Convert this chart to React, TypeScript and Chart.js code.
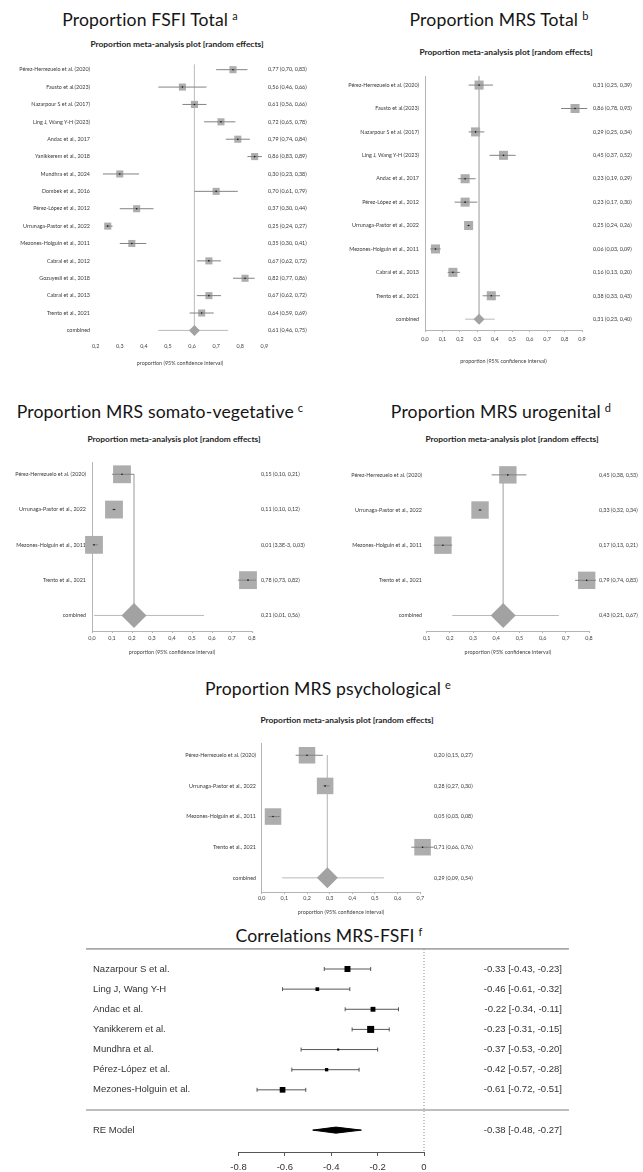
import React, { useEffect, useRef } from 'react';
import { Chart, registerables } from 'chart.js';

Chart.register(...registerables);

// ===================== DATA =====================
// (a) Proportion FSFI total
const fsfiStudies = [
  'Pérez-Herrezuelo et al. (2020)', 'Fausto et al.(2023)', 'Nazarpour S et al. (2017)', 'Ling J, Wang Y-H (2023)',
  'Andac et al., 2017', 'Yanikkerem et al., 2018', 'Mundhra et al., 2024', 'Dombek et al., 2016',
  'Pérez-López et al., 2012', 'Urrunaga-Pastor et al., 2022', 'Mezones-Holguin et al., 2011', 'Cabral et al., 2012',
  'Gozuyesil et al., 2018', 'Cabral et al., 2013', 'Trento et al., 2021',
];
const fsfiEst = [0.77, 0.56, 0.61, 0.72, 0.79, 0.86, 0.30, 0.70, 0.37, 0.25, 0.35, 0.67, 0.82, 0.67, 0.64];
const fsfiLo = [0.70, 0.46, 0.56, 0.65, 0.74, 0.83, 0.23, 0.61, 0.30, 0.24, 0.30, 0.62, 0.77, 0.62, 0.59];
const fsfiHi = [0.83, 0.66, 0.66, 0.78, 0.84, 0.89, 0.38, 0.79, 0.44, 0.27, 0.41, 0.72, 0.86, 0.72, 0.69];
const fsfiCombined = [0.61, 0.46, 0.75];
const fsfiTicks = [0.2, 0.3, 0.4, 0.5, 0.6, 0.7, 0.8, 0.9];

// (b) Proportion MRS total
const mrsStudies = [
  'Pérez-Herrezuelo et al. (2020)', 'Fausto et al.(2023)', 'Nazarpour S et al. (2017)', 'Ling J, Wang Y-H (2023)',
  'Andac et al., 2017', 'Pérez-López et al., 2012', 'Urrunaga-Pastor et al., 2022', 'Mezones-Holguin et al., 2011',
  'Cabral et al., 2013', 'Trento et al., 2021',
];
const mrsEst = [0.31, 0.86, 0.29, 0.45, 0.23, 0.23, 0.25, 0.06, 0.16, 0.38];
const mrsLo = [0.25, 0.78, 0.25, 0.37, 0.19, 0.17, 0.24, 0.03, 0.13, 0.33];
const mrsHi = [0.39, 0.93, 0.34, 0.52, 0.29, 0.30, 0.26, 0.09, 0.20, 0.43];
const mrsCombined = [0.31, 0.23, 0.40];
const mrsTicks = [0.0, 0.1, 0.2, 0.3, 0.4, 0.5, 0.6, 0.7, 0.8, 0.9];

// (c,d,e) MRS subscales
const subStudies = [
  'Pérez-Herrezuelo et al. (2020)', 'Urrunaga-Pastor et al., 2022', 'Mezones-Holguin et al., 2011', 'Trento et al., 2021',
];
const somaEst = [0.15, 0.11, 0.01, 0.78];
const somaLo = [0.10, 0.10, 0.0033, 0.73];
const somaHi = [0.21, 0.12, 0.03, 0.82];
const somaCombined = [0.21, 0.01, 0.56];
const somaTicks = [0.0, 0.1, 0.2, 0.3, 0.4, 0.5, 0.6, 0.7, 0.8];

const uroEst = [0.45, 0.33, 0.17, 0.79];
const uroLo = [0.38, 0.32, 0.13, 0.74];
const uroHi = [0.53, 0.34, 0.21, 0.83];
const uroCombined = [0.43, 0.21, 0.67];
const uroTicks = [0.1, 0.2, 0.3, 0.4, 0.5, 0.6, 0.7, 0.8];

const psyEst = [0.20, 0.28, 0.05, 0.71];
const psyLo = [0.15, 0.27, 0.03, 0.66];
const psyHi = [0.27, 0.30, 0.08, 0.76];
const psyCombined = [0.29, 0.09, 0.54];
const psyTicks = [0.0, 0.1, 0.2, 0.3, 0.4, 0.5, 0.6, 0.7];

// (f) Correlations MRS-FSFI
const corrStudies = [
  'Nazarpour S et al.', 'Ling J, Wang Y-H', 'Andac et al.', 'Yanikkerem et al.',
  'Mundhra et al.', 'Pérez-López et al.', 'Mezones-Holguin et al.',
];
const corrEst = [-0.33, -0.46, -0.22, -0.23, -0.37, -0.42, -0.61];
const corrLo = [-0.43, -0.61, -0.34, -0.31, -0.53, -0.57, -0.72];
const corrHi = [-0.23, -0.32, -0.11, -0.15, -0.20, -0.28, -0.51];
const corrWeights = [21, 8, 14, 29, 2.5, 6.5, 19];
const corrRE = [-0.38, -0.48, -0.27];
const corrTicks = [-0.8, -0.6, -0.4, -0.2, 0];

// ===================== HELPERS =====================
const fmtP = (v: number) =>
  v < 0.01 ? v.toExponential(1).replace('.', ',').replace('e', 'E') : v.toFixed(2).replace('.', ',');
const fmtCI = (e: number, l: number, h: number) => `${fmtP(e)} (${fmtP(l)}, ${fmtP(h)})`;
const fmtCorr = (e: number, l: number, h: number) => `${e.toFixed(2)} [${l.toFixed(2)}, ${h.toFixed(2)}]`;

type Box = { left: number; top: number; width: number; height: number };
type Area = { x0: number; x1: number; y0: number; y1: number };

const SMALL_FONT = { family: 'Lato, sans-serif', size: 5.4 };
const R_FONT = { family: "'Liberation Sans', Arial, sans-serif", size: 9.5 };

interface PropSpec {
  studies: string[]; est: number[]; lo: number[]; hi: number[]; combined: number[]; ticks: number[];
  box: Box; area: Area; row0: number; gap: number; refTop: number;
  padL: number; padR: number; tickPad: number; yLine: boolean; xLine: boolean; sq: number; dia: number;
}

function propConfig(p: PropSpec): any {
  const n = p.studies.length;
  const yMin = (p.area.y0 - p.row0) / p.gap;
  const yMax = (p.area.y1 - p.row0) / p.gap;
  const labelsL = [...p.studies, 'combined'];
  const labelsR = [...p.est.map((e, i) => fmtCI(e, p.lo[i], p.hi[i])), fmtCI(p.combined[0], p.combined[1], p.combined[2])];
  const rowTicks = (s: any) => { s.ticks = labelsL.map((_, i) => ({ value: i })); };
  const ci: any[] = [];
  p.est.forEach((_, i) => { ci.push({ x: p.lo[i], y: i }, { x: p.hi[i], y: i }, { x: p.hi[i], y: null }); });
  const pts = p.est.map((e, i) => ({ x: e, y: i }));
  const axisGrey = '#b4b4b4';
  return {
    type: 'scatter',
    data: {
      datasets: [
        { type: 'line', yAxisID: 'y', data: [{ x: p.combined[0], y: p.refTop }, { x: p.combined[0], y: n }], borderColor: '#c4c4c4', borderWidth: 1, pointRadius: 0, clip: false, order: 5 },
        { type: 'scatter', yAxisID: 'y', data: pts, pointStyle: 'rect', pointRadius: p.sq, pointBackgroundColor: '#adadad', pointBorderWidth: 0, clip: false, order: 4 },
        { type: 'line', yAxisID: 'y', data: [{ x: p.combined[1], y: n }, { x: p.combined[2], y: n }], borderColor: '#b9b9b9', borderWidth: 1, pointRadius: 0, clip: false, order: 3 },
        { type: 'line', yAxisID: 'y', data: ci, borderColor: '#838383', borderWidth: 1, pointRadius: 0, spanGaps: false, clip: false, order: 2 },
        { type: 'scatter', yAxisID: 'y', data: [{ x: p.combined[0], y: n }], pointStyle: 'rectRot', pointRadius: p.dia, pointBackgroundColor: '#a2a2a2', pointBorderWidth: 0, clip: false, order: 1 },
        { type: 'scatter', yAxisID: 'y', data: pts, pointStyle: 'circle', pointRadius: 0.8, pointBackgroundColor: '#111', pointBorderWidth: 0, clip: false, order: 0 },
      ],
    },
    options: {
      responsive: false, animation: false, devicePixelRatio: 1, events: [],
      layout: { padding: { top: p.area.y0 - p.box.top, left: 0, right: 0, bottom: 0 } },
      plugins: { legend: { display: false }, tooltip: { enabled: false }, title: { display: false } },
      scales: {
        x: {
          type: 'linear', min: p.ticks[0], max: p.ticks[p.ticks.length - 1],
          afterBuildTicks: (s: any) => { s.ticks = p.ticks.map((v) => ({ value: v })); },
          afterFit: (s: any) => { s.height = p.box.top + p.box.height - p.area.y1; },
          ticks: { callback: (v: number) => v.toFixed(1).replace('.', ','), font: SMALL_FONT, color: '#444', padding: p.tickPad, autoSkip: false, maxRotation: 0 },
          grid: { display: p.xLine, drawOnChartArea: false, drawTicks: p.xLine, tickLength: 2, color: axisGrey },
          border: { display: p.xLine, color: axisGrey, width: 1 },
          title: { display: true, text: 'proportion (95% confidence interval)', font: SMALL_FONT, color: '#444', padding: 0 },
        },
        y: {
          type: 'linear', position: 'left', reverse: true, min: yMin, max: yMax,
          afterBuildTicks: rowTicks,
          afterFit: (s: any) => { s.width = p.area.x0 - p.box.left; },
          ticks: { callback: (v: number) => labelsL[v] ?? '', font: SMALL_FONT, color: '#3a3a3a', padding: p.padL, autoSkip: false },
          grid: { display: false, drawTicks: false },
          border: { display: p.yLine, color: axisGrey, width: 1 },
        },
        yR: {
          type: 'linear', position: 'right', reverse: true, min: yMin, max: yMax,
          afterBuildTicks: rowTicks,
          afterFit: (s: any) => { s.width = p.box.left + p.box.width - p.area.x1; },
          ticks: { callback: (v: number) => labelsR[v] ?? '', font: SMALL_FONT, color: '#3a3a3a', padding: p.padR, autoSkip: false },
          grid: { display: false, drawTicks: false },
          border: { display: false },
        },
      },
    },
  };
}

// correlation plot layout
const corrBox: Box = { left: 80, top: 940, width: 500, height: 232 };
const corrArea: Area = { x0: 238.5, x1: 424, y0: 949, y1: 1152 };
const corrRow0 = 969;
const corrGap = 20.14;
const corrLabelLeft = 93;
const corrLabelRight = 562;
const corrXlim = [-1.4575, 0.625];

function corrConfig(): any {
  const n = corrStudies.length;
  const reRow = n + 1;
  const yMin = (corrArea.y0 - corrRow0) / corrGap;
  const yMax = (corrArea.y1 - corrRow0) / corrGap;
  const labelsL: string[] = [...corrStudies, '', 'RE Model'];
  const labelsR: string[] = [...corrEst.map((e, i) => fmtCorr(e, corrLo[i], corrHi[i])), '', fmtCorr(corrRE[0], corrRE[1], corrRE[2])];
  const rowIdx = [...corrStudies.map((_, i) => i), reRow];
  const rowTicks = (s: any) => { s.ticks = rowIdx.map((v) => ({ value: v })); };
  const ci: any[] = [];
  corrEst.forEach((_, i) => { ci.push({ x: corrLo[i], y: i }, { x: corrHi[i], y: i }, { x: corrHi[i], y: null }); });
  const caps: any[] = [];
  corrEst.forEach((_, i) => { caps.push({ x: corrLo[i], y: i }, { x: corrHi[i], y: i }); });
  const sqR = corrWeights.map((w) => (1.3 * Math.sqrt(w)) / Math.SQRT2);
  const h = 0.15;
  const ruleTop = -1;
  const ruleSep = n;
  return {
    type: 'scatter',
    data: {
      datasets: [
        { type: 'line', yAxisID: 'y', data: [{ x: corrXlim[0], y: ruleTop }, { x: corrXlim[1], y: ruleTop }], borderColor: '#a8a8a8', borderWidth: 1.6, pointRadius: 0, clip: false, order: 6 },
        { type: 'line', yAxisID: 'y', data: [{ x: corrXlim[0], y: ruleSep }, { x: corrXlim[1], y: ruleSep }], borderColor: '#a8a8a8', borderWidth: 1.6, pointRadius: 0, clip: false, order: 6 },
        { type: 'line', yAxisID: 'y', data: [{ x: 0, y: yMin }, { x: 0, y: yMax }], borderColor: '#8a8a8a', borderWidth: 1, borderDash: [1, 2], pointRadius: 0, clip: false, order: 5 },
        { type: 'line', yAxisID: 'y', data: ci, borderColor: '#444', borderWidth: 0.9, pointRadius: 0, spanGaps: false, clip: false, order: 3 },
        { type: 'scatter', yAxisID: 'y', data: caps, pointStyle: 'line', pointRotation: 90, pointRadius: 2, pointBorderColor: '#444', pointBorderWidth: 0.9, clip: false, order: 2 },
        { type: 'scatter', yAxisID: 'y', data: corrEst.map((e, i) => ({ x: e, y: i })), pointStyle: 'rect', pointRadius: sqR, pointBackgroundColor: '#000', pointBorderWidth: 0, clip: false, order: 1 },
        { type: 'line', yAxisID: 'y', data: [{ x: corrRE[1], y: reRow }, { x: corrRE[0], y: reRow - h }, { x: corrRE[2], y: reRow }], borderColor: '#000', borderWidth: 1, pointRadius: 0, fill: false, order: 0 },
        { type: 'line', yAxisID: 'y', data: [{ x: corrRE[1], y: reRow }, { x: corrRE[0], y: reRow + h }, { x: corrRE[2], y: reRow }], borderColor: '#000', borderWidth: 1, backgroundColor: '#000', pointRadius: 0, fill: '-1', order: 0 },
      ],
    },
    options: {
      responsive: false, animation: false, devicePixelRatio: 1, events: [],
      layout: {
        padding: {
          top: corrArea.y0 - corrBox.top, bottom: 0,
          left: corrLabelLeft - corrBox.left, right: corrBox.left + corrBox.width - corrLabelRight,
        },
      },
      plugins: { legend: { display: false }, tooltip: { enabled: false }, title: { display: false }, filler: { propagate: false } },
      scales: {
        x: {
          type: 'linear', min: corrTicks[0], max: corrTicks[corrTicks.length - 1],
          afterBuildTicks: (s: any) => { s.ticks = corrTicks.map((v) => ({ value: v })); },
          afterFit: (s: any) => { s.height = corrBox.top + corrBox.height - corrArea.y1; },
          ticks: { callback: (v: number) => (v === 0 ? '0' : v.toFixed(1)), font: R_FONT, color: '#333', padding: 5.3, autoSkip: false, maxRotation: 0 },
          grid: { display: true, drawOnChartArea: false, drawTicks: true, tickLength: 4, color: '#555' },
          border: { display: true, color: '#555', width: 1 },
        },
        y: {
          type: 'linear', position: 'left', reverse: true, min: yMin, max: yMax,
          afterBuildTicks: rowTicks,
          afterFit: (s: any) => { s.width = corrArea.x0 - corrLabelLeft; },
          ticks: { callback: (v: number) => labelsL[v] ?? '', font: R_FONT, color: '#333', padding: 0, crossAlign: 'far', autoSkip: false },
          grid: { display: false, drawTicks: false },
          border: { display: false },
        },
        yR: {
          type: 'linear', position: 'right', reverse: true, min: yMin, max: yMax,
          afterBuildTicks: rowTicks,
          afterFit: (s: any) => { s.width = corrLabelRight - corrArea.x1; },
          ticks: { callback: (v: number) => labelsR[v] ?? '', font: R_FONT, color: '#333', padding: 0, crossAlign: 'far', autoSkip: false },
          grid: { display: false, drawTicks: false },
          border: { display: false },
        },
      },
    },
  };
}

// ===================== PANEL LAYOUT =====================
const panels: PropSpec[] = [
  {
    studies: fsfiStudies, est: fsfiEst, lo: fsfiLo, hi: fsfiHi, combined: fsfiCombined, ticks: fsfiTicks,
    box: { left: 0, top: 50, width: 320, height: 317 }, area: { x0: 95.7, x1: 264.3, y0: 57.5, y1: 339.8 },
    row0: 68.3, gap: 17.47, refTop: -0.29, padL: 5.7, padR: 3.7, tickPad: 2.9, yLine: false, xLine: false, sq: 5, dia: 5.5,
  },
  {
    studies: mrsStudies, est: mrsEst, lo: mrsLo, hi: mrsHi, combined: mrsCombined, ticks: mrsTicks,
    box: { left: 320, top: 62, width: 323, height: 303 }, area: { x0: 425, x1: 582, y0: 72, y1: 330 },
    row0: 81, gap: 23.8, refTop: -0.38, padL: 6, padR: 11, tickPad: 3.8, yLine: true, xLine: true, sq: 6.4, dia: 5.5,
  },
  {
    studies: subStudies, est: somaEst, lo: somaLo, hi: somaHi, combined: somaCombined, ticks: somaTicks,
    box: { left: 0, top: 450, width: 320, height: 206 }, area: { x0: 92, x1: 252, y0: 458, y1: 631 },
    row0: 470, gap: 36.25, refTop: 0, padL: 6, padR: 9, tickPad: 1.8, yLine: true, xLine: true, sq: 12.6, dia: 12.5,
  },
  {
    studies: subStudies, est: uroEst, lo: uroLo, hi: uroHi, combined: uroCombined, ticks: uroTicks,
    box: { left: 320, top: 450, width: 323, height: 206 }, area: { x0: 426.7, x1: 589, y0: 458, y1: 631 },
    row0: 470, gap: 36.25, refTop: 0, padL: 4.7, padR: 10, tickPad: 1.8, yLine: false, xLine: true, sq: 12.3, dia: 12.5,
  },
  {
    studies: subStudies, est: psyEst, lo: psyLo, hi: psyHi, combined: psyCombined, ticks: psyTicks,
    box: { left: 140, top: 727, width: 360, height: 189 }, area: { x0: 261.7, x1: 420.3, y0: 735, y1: 892 },
    row0: 747, gap: 32.5, refTop: 0, padL: 5.7, padR: 13.7, tickPad: 0.8, yLine: true, xLine: true, sq: 11.7, dia: 10.5,
  },
];

const titles = [
  { text: 'Proportion FSFI Total', sup: 'a', cx: 150, base: 26.7 },
  { text: 'Proportion MRS Total', sup: 'b', cx: 499, base: 26.7 },
  { text: 'Proportion MRS somato-vegetative', sup: 'c', cx: 160, base: 418.3 },
  { text: 'Proportion MRS urogenital', sup: 'd', cx: 501, base: 418.3 },
  { text: 'Proportion MRS psychological', sup: 'e', cx: 328, base: 696 },
  { text: 'Correlations MRS-FSFI', sup: 'f', cx: 329, base: 943 },
];

const SUBTITLE = 'Proportion meta-analysis plot [random effects]';
const subtitles = [
  { cx: 177, cy: 45 },
  { cx: 506, cy: 52.7 },
  { cx: 174, cy: 440 },
  { cx: 512, cy: 440 },
  { cx: 347, cy: 720.7 },
];

// ===================== COMPONENTS =====================
const TITLE_FS = 17.6;

function Title({ t }: { t: { text: string; sup: string; cx: number; base: number } }) {
  return (
    <div
      style={{
        position: 'absolute', left: t.cx, top: t.base - 0.887 * TITLE_FS, transform: 'translateX(-50%)',
        fontFamily: 'Lato, sans-serif', fontSize: TITLE_FS, lineHeight: `${TITLE_FS}px`, letterSpacing: '0.15px',
        whiteSpace: 'nowrap', color: '#151515',
      }}
    >
      {t.text}
      <span style={{ fontSize: 11, position: 'relative', top: -6, marginLeft: 4 }}>{t.sup}</span>
    </div>
  );
}

function Subtitle({ cx, cy }: { cx: number; cy: number }) {
  const fs = 8.4;
  return (
    <div
      style={{
        position: 'absolute', left: cx, top: cy - 0.58 * fs, transform: 'translateX(-50%)',
        fontFamily: 'Lato, sans-serif', fontWeight: 700, fontSize: fs, lineHeight: `${fs}px`, whiteSpace: 'nowrap', color: '#1c1c1c',
      }}
    >
      {SUBTITLE}
    </div>
  );
}

function ChartCanvas({ box, make }: { box: Box; make: () => any }) {
  const ref = useRef<HTMLCanvasElement>(null);
  useEffect(() => {
    const chart = new Chart(ref.current as HTMLCanvasElement, make());
    return () => chart.destroy();
  }, []);
  return (
    <canvas
      ref={ref}
      width={box.width}
      height={box.height}
      style={{ position: 'absolute', left: box.left, top: box.top, width: box.width, height: box.height }}
    />
  );
}

export default function App() {
  return (
    <div style={{ position: 'absolute', left: 0, top: 0, width: 643, height: 1172, background: '#fff', overflow: 'hidden' }}>
      {titles.map((t, i) => <Title key={`t${i}`} t={t} />)}
      {subtitles.map((s, i) => <Subtitle key={`s${i}`} cx={s.cx} cy={s.cy} />)}
      {panels.map((p, i) => <ChartCanvas key={`p${i}`} box={p.box} make={() => propConfig(p)} />)}
      <ChartCanvas box={corrBox} make={corrConfig} />
    </div>
  );
}
